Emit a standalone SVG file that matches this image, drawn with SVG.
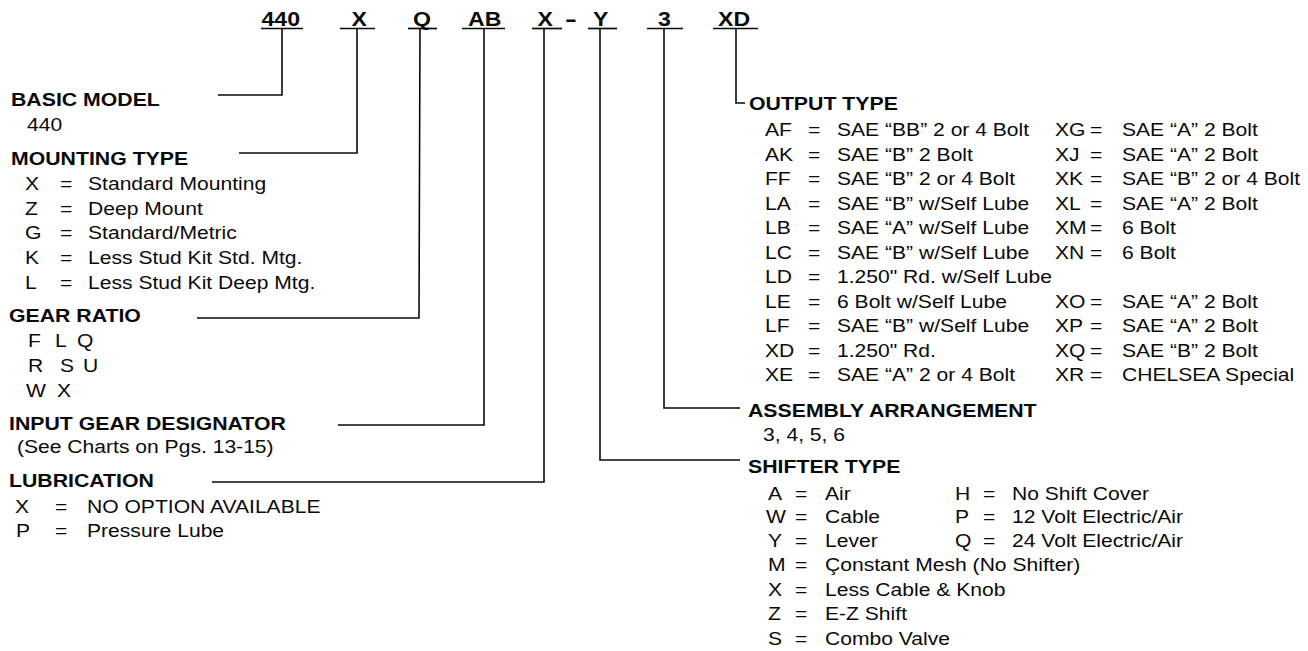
<svg xmlns="http://www.w3.org/2000/svg" width="1308" height="651" viewBox="0 0 1308 651">
<style>
text { font-family: "Liberation Sans", Arial, Helvetica, sans-serif; fill: #0a0a0a; transform-box: fill-box; transform-origin: 0 0; }
.code { font-size: 21px; font-weight: bold; transform: scaleX(1.1); }
.dash { font-size: 21px; font-weight: bold; transform: scaleX(1.7); }
.h { font-size: 18.5px; font-weight: bold; transform: scaleX(1.15); }
.r { font-size: 18.5px; transform: scaleX(1.14); }
.ul { stroke: #0a0a0a; stroke-width: 1.7; }
.conn { fill: none; stroke: #0a0a0a; stroke-width: 1.6; }
</style>
<rect width="1308" height="651" fill="#fff"/>

<g id="connectors">
  <path class="conn" d="M282,28 V95 H218"/>
  <path class="conn" d="M357,28 V153 H239"/>
  <path class="conn" d="M420,28 L419,318 H197"/>
  <path class="conn" d="M484,28 V425 H338"/>
  <path class="conn" d="M544,28 V482 H212"/>
  <path class="conn" d="M600,28 V460 H740"/>
  <path class="conn" d="M664,28 V408 H740"/>
  <path class="conn" d="M736,28 V103 H745"/>
</g>

<g id="code-440"><text class="code" x="261.5" y="26">440</text><line class="ul" x1="261" y1="28.5" x2="303" y2="28.5"/></g>
<g id="code-x-mount"><text class="code" x="351.5" y="26">X</text><line class="ul" x1="340" y1="28.5" x2="375" y2="28.5"/></g>
<g id="code-q"><text class="code" x="413" y="26">Q</text><line class="ul" x1="408" y1="28.5" x2="437" y2="28.5"/></g>
<g id="code-ab"><text class="code" x="468" y="26">AB</text><line class="ul" x1="462" y1="28.5" x2="505" y2="28.5"/></g>
<g id="code-x-lube"><text class="code" x="537.5" y="26">X</text><line class="ul" x1="532" y1="28.5" x2="562" y2="28.5"/><text class="dash" x="565" y="26">-</text></g>
<g id="code-y"><text class="code" x="593" y="26">Y</text><line class="ul" x1="588" y1="28.5" x2="617" y2="28.5"/></g>
<g id="code-3"><text class="code" x="658" y="26">3</text><line class="ul" x1="647" y1="28.5" x2="683" y2="28.5"/></g>
<g id="code-xd"><text class="code" x="718" y="26">XD</text><line class="ul" x1="713" y1="28.5" x2="758" y2="28.5"/></g>

<g id="basic-model">
  <text class="h" x="11" y="106.5">BASIC MODEL</text>
  <text class="r" x="27" y="131.5">440</text>
</g>

<g id="mounting-type">
  <text class="h" x="11" y="165">MOUNTING TYPE</text>
  <text class="r" x="25" y="190">X</text><text class="r" x="60" y="190">=</text><text class="r" x="88" y="190">Standard Mounting</text>
  <text class="r" x="25" y="214.8">Z</text><text class="r" x="60" y="214.8">=</text><text class="r" x="88" y="214.8">Deep Mount</text>
  <text class="r" x="25" y="239.3">G</text><text class="r" x="60" y="239.3">=</text><text class="r" x="88" y="239.3">Standard/Metric</text>
  <text class="r" x="25" y="264.3">K</text><text class="r" x="60" y="264.3">=</text><text class="r" x="88" y="264.3">Less Stud Kit Std. Mtg.</text>
  <text class="r" x="25" y="289.3">L</text><text class="r" x="60" y="289.3">=</text><text class="r" x="88" y="289.3">Less Stud Kit Deep Mtg.</text>
</g>

<g id="gear-ratio">
  <text class="h" x="9" y="322">GEAR RATIO</text>
  <text class="r" x="28" y="347">F</text><text class="r" x="55" y="347">L</text><text class="r" x="77" y="347">Q</text>
  <text class="r" x="28" y="372">R</text><text class="r" x="60" y="372">S</text><text class="r" x="83" y="372">U</text>
  <text class="r" x="26" y="397">W</text><text class="r" x="57" y="397">X</text>
</g>

<g id="input-gear">
  <text class="h" x="9" y="430">INPUT GEAR DESIGNATOR</text>
  <text class="r" x="17" y="453">(See Charts on Pgs. 13-15)</text>
</g>

<g id="lubrication">
  <text class="h" x="9" y="487">LUBRICATION</text>
  <text class="r" x="15" y="513">X</text><text class="r" x="55" y="513">=</text><text class="r" x="87" y="513">NO OPTION AVAILABLE</text>
  <text class="r" x="16" y="537">P</text><text class="r" x="55" y="537">=</text><text class="r" x="87" y="537">Pressure Lube</text>
</g>

<g id="output-type">
  <text class="h" x="749" y="110">OUTPUT TYPE</text>
  <text class="r" x="765" y="136.5">AF</text><text class="r" x="808" y="136.5">=</text><text class="r" x="837" y="136.5">SAE “BB” 2 or 4 Bolt</text>
  <text class="r" x="1055" y="136.5">XG</text><text class="r" x="1090" y="136.5">=</text><text class="r" x="1122" y="136.5">SAE “A” 2 Bolt</text>
  <text class="r" x="765" y="161">AK</text><text class="r" x="808" y="161">=</text><text class="r" x="837" y="161">SAE “B” 2 Bolt</text>
  <text class="r" x="1055" y="161">XJ</text><text class="r" x="1090" y="161">=</text><text class="r" x="1122" y="161">SAE “A” 2 Bolt</text>
  <text class="r" x="765" y="185.5">FF</text><text class="r" x="808" y="185.5">=</text><text class="r" x="837" y="185.5">SAE “B” 2 or 4 Bolt</text>
  <text class="r" x="1055" y="185.5">XK</text><text class="r" x="1090" y="185.5">=</text><text class="r" x="1122" y="185.5">SAE “B” 2 or 4 Bolt</text>
  <text class="r" x="765" y="210">LA</text><text class="r" x="808" y="210">=</text><text class="r" x="837" y="210">SAE “B” w/Self Lube</text>
  <text class="r" x="1055" y="210">XL</text><text class="r" x="1090" y="210">=</text><text class="r" x="1122" y="210">SAE “A” 2 Bolt</text>
  <text class="r" x="765" y="234.5">LB</text><text class="r" x="808" y="234.5">=</text><text class="r" x="837" y="234.5">SAE “A” w/Self Lube</text>
  <text class="r" x="1055" y="234.5">XM</text><text class="r" x="1090" y="234.5">=</text><text class="r" x="1122" y="234.5">6 Bolt</text>
  <text class="r" x="765" y="259">LC</text><text class="r" x="808" y="259">=</text><text class="r" x="837" y="259">SAE “B” w/Self Lube</text>
  <text class="r" x="1055" y="259">XN</text><text class="r" x="1090" y="259">=</text><text class="r" x="1122" y="259">6 Bolt</text>
  <text class="r" x="765" y="283.5">LD</text><text class="r" x="808" y="283.5">=</text><text class="r" x="837" y="283.5">1.250" Rd. w/Self Lube</text>
  <text class="r" x="765" y="308">LE</text><text class="r" x="808" y="308">=</text><text class="r" x="837" y="308">6 Bolt w/Self Lube</text>
  <text class="r" x="1055" y="308">XO</text><text class="r" x="1090" y="308">=</text><text class="r" x="1122" y="308">SAE “A” 2 Bolt</text>
  <text class="r" x="765" y="332.5">LF</text><text class="r" x="808" y="332.5">=</text><text class="r" x="837" y="332.5">SAE “B” w/Self Lube</text>
  <text class="r" x="1055" y="332.5">XP</text><text class="r" x="1090" y="332.5">=</text><text class="r" x="1122" y="332.5">SAE “A” 2 Bolt</text>
  <text class="r" x="765" y="357">XD</text><text class="r" x="808" y="357">=</text><text class="r" x="837" y="357">1.250" Rd.</text>
  <text class="r" x="1055" y="357">XQ</text><text class="r" x="1090" y="357">=</text><text class="r" x="1122" y="357">SAE “B” 2 Bolt</text>
  <text class="r" x="765" y="381.5">XE</text><text class="r" x="808" y="381.5">=</text><text class="r" x="837" y="381.5">SAE “A” 2 or 4 Bolt</text>
  <text class="r" x="1055" y="381.5">XR</text><text class="r" x="1090" y="381.5">=</text><text class="r" x="1122" y="381.5">CHELSEA Special</text>
</g>

<g id="assembly-arrangement">
  <text class="h" x="748" y="416.7">ASSEMBLY ARRANGEMENT</text>
  <text class="r" x="763" y="441.5">3, 4, 5, 6</text>
</g>

<g id="shifter-type">
  <text class="h" x="748" y="473.3">SHIFTER TYPE</text>
  <text class="r" x="768" y="500">A</text><text class="r" x="795" y="500">=</text><text class="r" x="825" y="500">Air</text>
  <text class="r" x="955" y="500">H</text><text class="r" x="983" y="500">=</text><text class="r" x="1012" y="500">No Shift Cover</text>
  <text class="r" x="766" y="523.5">W</text><text class="r" x="795" y="523.5">=</text><text class="r" x="825" y="523.5">Cable</text>
  <text class="r" x="955" y="523.5">P</text><text class="r" x="983" y="523.5">=</text><text class="r" x="1012" y="523.5">12 Volt Electric/Air</text>
  <text class="r" x="768" y="547.5">Y</text><text class="r" x="795" y="547.5">=</text><text class="r" x="825" y="547.5">Lever</text>
  <text class="r" x="955" y="547.5">Q</text><text class="r" x="983" y="547.5">=</text><text class="r" x="1012" y="547.5">24 Volt Electric/Air</text>
  <text class="r" x="768" y="571.5">M</text><text class="r" x="795" y="571.5">=</text><text class="r" x="825" y="571.5">Çonstant Mesh (No Shifter)</text>
  <text class="r" x="768" y="596">X</text><text class="r" x="795" y="596">=</text><text class="r" x="825" y="596">Less Cable &amp; Knob</text>
  <text class="r" x="768" y="620.5">Z</text><text class="r" x="795" y="620.5">=</text><text class="r" x="825" y="620.5">E-Z Shift</text>
  <text class="r" x="768" y="645">S</text><text class="r" x="795" y="645">=</text><text class="r" x="825" y="645">Combo Valve</text>
</g>
</svg>
